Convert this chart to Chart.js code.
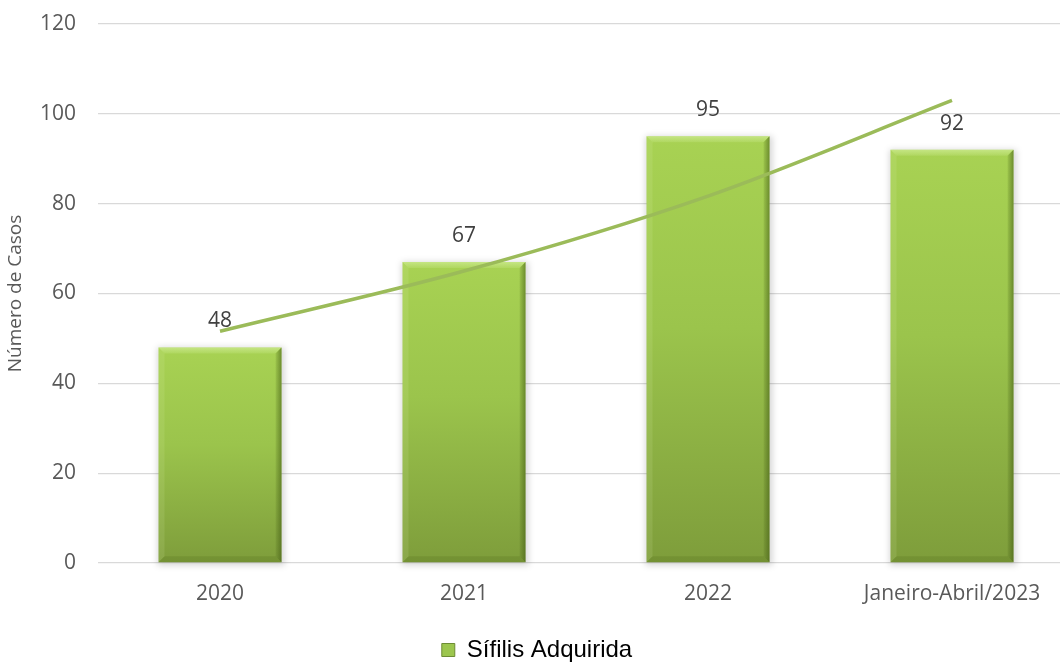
<!DOCTYPE html>
<html>
<head>
<meta charset="utf-8">
<script src="https://cdn.jsdelivr.net/npm/chart.js@4/dist/chart.umd.min.js"></script>
<style>
  html, body { margin: 0; padding: 0; background: #fff; overflow: hidden; }
  #wrap { width: 1080px; height: 662px; }
</style>
</head>
<body>
<div id="wrap"><canvas id="grafico" width="1080" height="662"></canvas></div>
<script>
// Dados
const anos = ["2020", "2021", "2022", "Janeiro-Abril/2023"];
const casos = [48, 67, 95, 92];
const tendencia = [51.6, 65, 81.7, 103];
const marcasY = [0, 20, 40, 60, 80, 100, 120];

const corTexto = "#595959";
const fonteEixo = "'Open Sans', sans-serif";

// Degradê de cada barra (claro em cima, escuro embaixo)
function corBarra(ctx) {
  const chart = ctx.chart;
  const y = chart.scales.y;
  if (!y || ctx.parsed === undefined) return "#95c14a";
  const topo = y.getPixelForValue(ctx.parsed.y);
  const base = y.getPixelForValue(0);
  const g = chart.ctx.createLinearGradient(0, topo, 0, base);
  g.addColorStop(0, "#a8d253");
  g.addColorStop(0.45, "#9bc44c");
  g.addColorStop(1, "#7e9d3b");
  return g;
}

// Sombras, chanfros e rótulos das barras
const chanfro = {
  id: "chanfro",
  beforeDatasetDraw(chart, args) {
    if (args.index !== 0) return;
    const ctx = chart.ctx;
    ctx.save();
    ctx.filter = "blur(3px)";
    ctx.fillStyle = "rgba(0,0,0,0.16)";
    args.meta.data.forEach((el) => {
      const p = el.getProps(["x", "y", "base", "width"], true);
      ctx.fillRect(p.x - p.width / 2 - 1, p.y, p.width + 4, p.base - p.y + 3);
    });
    ctx.restore();
  },
  afterDatasetDraw(chart, args) {
    if (args.index !== 0) return;
    const ctx = chart.ctx;
    const d = 6;
    const quad = (pts, cor) => {
      ctx.beginPath();
      ctx.moveTo(pts[0][0], pts[0][1]);
      for (let i = 1; i < pts.length; i++) ctx.lineTo(pts[i][0], pts[i][1]);
      ctx.closePath();
      ctx.fillStyle = cor;
      ctx.fill();
    };
    ctx.save();
    args.meta.data.forEach((el) => {
      const p = el.getProps(["x", "y", "base", "width"], true);
      const l = p.x - p.width / 2, r = p.x + p.width / 2, t = p.y, b = p.base;
      const gTopo = ctx.createLinearGradient(0, t, 0, t + d);
      gTopo.addColorStop(0, "rgba(220,245,170,0.55)");
      gTopo.addColorStop(1, "rgba(220,245,170,0.15)");
      quad([[l, t], [r, t], [r - d, t + d], [l + d, t + d]], gTopo);
      quad([[l, t], [l + d, t + d], [l + d, b - d], [l, b]], "rgba(230,250,190,0.12)");
      const gDir = ctx.createLinearGradient(r - d, 0, r, 0);
      gDir.addColorStop(0, "rgba(60,85,15,0.1)");
      gDir.addColorStop(1, "rgba(60,85,15,0.55)");
      quad([[r, t], [r, b], [r - d, b - d], [r - d, t + d]], gDir);
      quad([[l, b], [r, b], [r - d, b - d], [l + d, b - d]], "rgba(60,85,15,0.16)");
    });
    ctx.restore();
  },
  afterDatasetsDraw(chart) {
    const ctx = chart.ctx;
    const meta = chart.getDatasetMeta(0);
    ctx.save();
    ctx.font = "21px " + fonteEixo;
    ctx.fillStyle = "#404040";
    ctx.textAlign = "center";
    ctx.textBaseline = "middle";
    meta.data.forEach((el, i) => {
      const p = el.getProps(["x", "y"], true);
      ctx.fillText(String(casos[i]), p.x, p.y - 26);
    });
    ctx.restore();
  }
};

new Chart(document.getElementById("grafico"), {
  data: {
    labels: anos,
    datasets: [
      {
        type: "bar",
        label: "Sífilis Adquirida",
        data: casos,
        backgroundColor: corBarra,
        borderWidth: 0,
        categoryPercentage: 1,
        barPercentage: 0.504,
        order: 1
      },
      {
        type: "line",
        label: "Tendência",
        data: tendencia,
        borderColor: "#9bbb59",
        borderWidth: 3.5,
        pointRadius: 0,
        cubicInterpolationMode: "monotone",
        fill: false,
        order: 0
      }
    ]
  },
  options: {
    responsive: false,
    animation: false,
    layout: { padding: { top: 24, right: 6, bottom: -10, left: 0 } },
    scales: {
      x: {
        grid: { display: false, drawTicks: false },
        border: { display: false },
        ticks: { color: corTexto, font: { family: fonteEixo, size: 21 }, padding: 18 },
        afterFit: (s) => {
          s.height = 75;
          s.paddingLeft = 0;
          s.paddingRight = 0;
        }
      },
      y: {
        min: 0,
        max: 120,
        grid: { color: "#d9d9d9", lineWidth: 1.3, drawTicks: false },
        border: { display: false },
        afterBuildTicks: (s) => { s.ticks = marcasY.map((v) => ({ value: v })); },
        ticks: { color: corTexto, font: { family: fonteEixo, size: 21 }, padding: 22 },
        title: {
          display: true,
          text: "Número de Casos",
          color: corTexto,
          font: { family: fonteEixo, size: 19 },
          padding: { top: 4, bottom: 0 }
        },
        afterFit: (s) => {
          s.width = 98;
          s.paddingTop = 0;
          s.paddingBottom = 0;
        }
      }
    },
    plugins: {
      tooltip: { enabled: false },
      legend: {
        position: "bottom",
        labels: {
          color: "#000",
          font: { family: "'Liberation Sans', Arial, sans-serif", size: 24, lineHeight: 1 },
          boxWidth: 13,
          boxHeight: 13,
          padding: 0,
          generateLabels: (chart) => [{
            text: "Sífilis Adquirida",
            fillStyle: "#9cc64e",
            strokeStyle: "#6d8c34",
            lineWidth: 1,
            datasetIndex: 0
          }]
        }
      }
    }
  },
  plugins: [chanfro]
});
</script>
</body>
</html>
